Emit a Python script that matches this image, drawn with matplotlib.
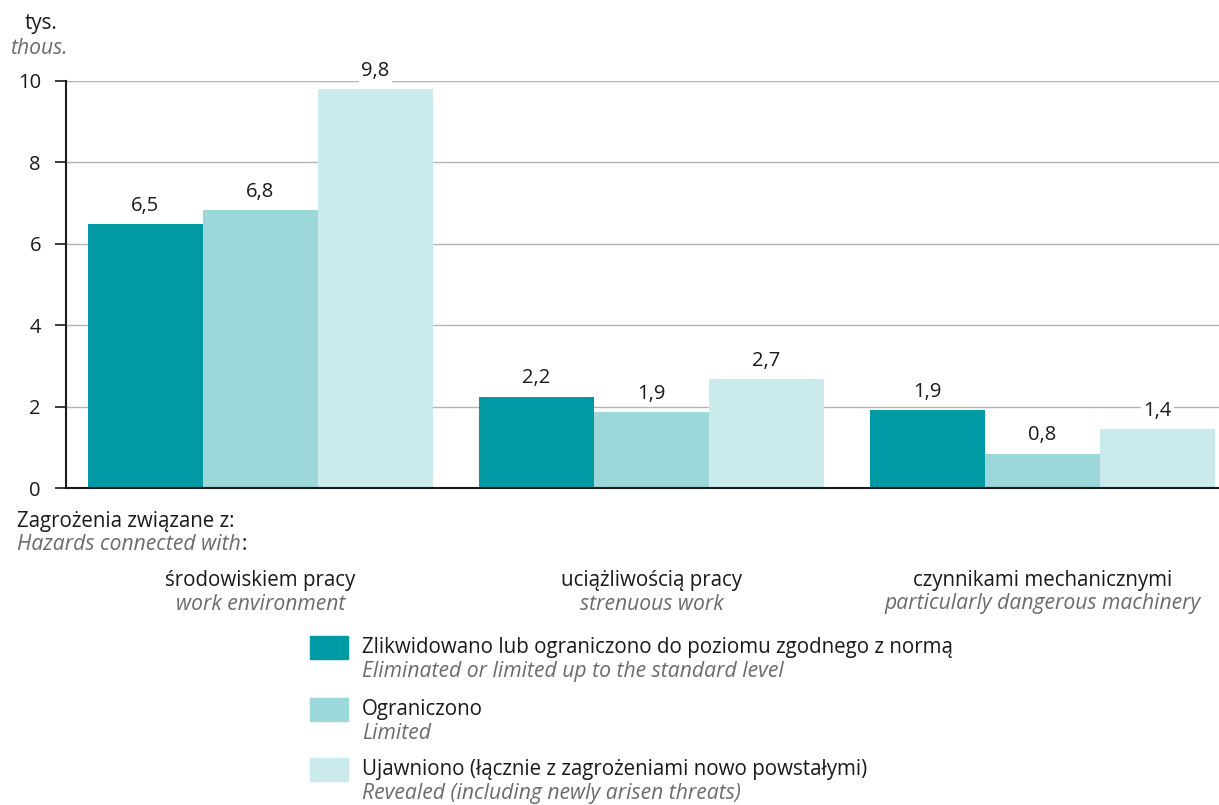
import matplotlib
matplotlib.use("Agg")
import matplotlib.pyplot as plt
from matplotlib.patches import Rectangle
import numpy as np

plt.rcParams['font.family'] = ['Open Sans', 'DejaVu Sans']

categories_pl = ["środowiskiem pracy", "uciążliwością pracy", "czynnikami mechanicznymi"]
categories_en = ["work environment", "strenuous work", "particularly dangerous machinery"]
series_pl = ["Zlikwidowano lub ograniczono do poziomu zgodnego z normą",
             "Ograniczono",
             "Ujawniono (łącznie z zagrożeniami nowo powstałymi)"]
series_en = ["Eliminated or limited up to the standard level",
             "Limited",
             "Revealed (including newly arisen threats)"]
eliminated = [6.49, 2.24, 1.92]
limited = [6.83, 1.87, 0.84]
revealed = [9.80, 2.68, 1.44]
yticks = [0, 2, 4, 6, 8, 10]
colors = ["#009aa4", "#9cd7da", "#cbeaec"]

W, H = 1219, 805
fig = plt.figure(figsize=(W / 100, H / 100), dpi=100)

def fx(x):
    return x / W

def fy(y):
    return 1 - y / H

ax = fig.add_axes([fx(66), fy(488), fx(1219) - fx(66), fy(81) - fy(488)])

gray = "#6b6b6b"
dark = "#1a1a1a"
fs = 14.8
fsi = 15.2

x = np.arange(len(categories_pl))
bw = 0.294
series = [eliminated, limited, revealed]
for i, (vals, c) in enumerate(zip(series, colors)):
    bars = ax.bar(x + (i - 1) * bw, vals, width=bw, color=c, zorder=2)
    for b, v in zip(bars, vals):
        ax.annotate(f"{v:.1f}".replace(".", ","),
                    (b.get_x() + b.get_width() / 2, v),
                    xytext=(0, 6), textcoords="offset points",
                    ha="center", va="bottom", fontsize=14.5, color=dark,
                    bbox=dict(boxstyle="square,pad=0.12", fc="white", ec="none"),
                    zorder=3)

ax.set_xlim(-0.497, 2.451)
ax.set_ylim(0, 10)
ax.set_yticks(yticks)
ax.set_yticklabels([str(t) for t in yticks])
ax.set_xticks([])
ax.yaxis.grid(True, color="#b3b3b3", linewidth=1)
ax.set_axisbelow(True)
for s in ["top", "right"]:
    ax.spines[s].set_visible(False)
ax.spines["left"].set_linewidth(1.5)
ax.spines["bottom"].set_linewidth(1.5)
ax.spines["left"].set_color(dark)
ax.spines["bottom"].set_color(dark)
ax.tick_params(axis="y", length=8, width=1.2, color=dark, pad=10,
               labelsize=14.5, labelcolor=dark)

fig.text(fx(41), fy(24), "tys.", ha="center", va="center", fontsize=fs, color=dark)
fig.text(fx(39), fy(48), "thous.", ha="center", va="center", fontsize=fsi, color=gray, style="italic")

fig.text(fx(17), fy(521), "Zagrożenia związane z:", ha="left", va="center", fontsize=fs, color=dark)
t = fig.text(fx(17), fy(544), "Hazards connected with", ha="left", va="center", fontsize=fsi,
             color=gray, style="italic")
fig.canvas.draw()
bb = t.get_window_extent()
fig.text(bb.x1 / W + 0.0005, fy(544), ":", ha="left", va="center", fontsize=fs, color=dark)

for xi, pl, en in zip(x, categories_pl, categories_en):
    xf = ax.transData.transform((xi, 0))[0] / W
    fig.text(xf, fy(580), pl, ha="center", va="center", fontsize=fs, color=dark)
    fig.text(xf, fy(604), en, ha="center", va="center", fontsize=fsi, color=gray, style="italic")

leg_y = [647, 709, 769]
for yy, c, pl, en in zip(leg_y, colors, series_pl, series_en):
    fig.add_artist(Rectangle((fx(310), fy(yy + 12)), fx(38), fy(yy - 11) - fy(yy + 12),
                             transform=fig.transFigure, color=c))
    fig.text(fx(362), fy(yy), pl, ha="left", va="center", fontsize=fs, color=dark)
    fig.text(fx(362), fy(yy + 24), en, ha="left", va="center", fontsize=fsi, color=gray, style="italic")

fig.savefig("out.png", dpi=100)
